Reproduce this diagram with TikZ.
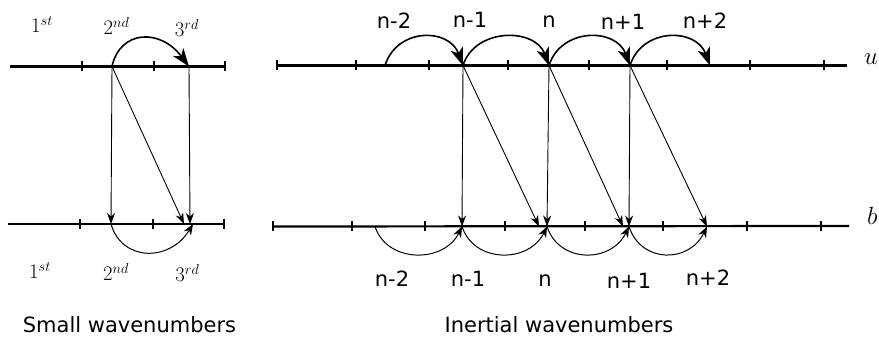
\documentclass[tikz,border=0pt]{standalone}
\usepackage{fontspec}
\setmainfont{DejaVu Sans}
\usetikzlibrary{arrows.meta}
\begin{document}
\begin{tikzpicture}[x=1pt,y=-1pt,
  axisline/.style={line width=2.2pt},
  tickmark/.style={line width=1.8pt},
  hop/.style={line width=1.6pt,-{Stealth[length=18pt,width=13pt,inset=5pt]}},
  lowhop/.style={line width=1pt,-{Stealth[length=11pt,width=8.5pt]}},
  drop/.style={line width=0.9pt,-{Stealth[length=11pt,width=8pt]}},
  lbl/.style={anchor=base,inner sep=0pt,font=\fontsize{21}{24}\selectfont},
  caplbl/.style={lbl,text depth=0pt},
  ordl/.style={anchor=base,inner sep=0pt,font=\fontsize{22}{26}\selectfont},
  varl/.style={anchor=base west,inner sep=0pt,font=\fontsize{24}{28}\selectfont},
]
\useasboundingbox (0,0) rectangle (879,339);

% ---------- left panel ----------
\coordinate (LTa) at (10,66.5);   \coordinate (LTb) at (225,66.5);
\coordinate (LBa) at (8,224);     \coordinate (LBb) at (224,224);
\draw[axisline] (LTa) -- (LTb);
\draw[axisline] (LBa) -- (LBb);
\foreach \x in {82,154,225} \draw[tickmark] (\x,61.5) -- (\x,71.5);
\foreach \x in {80,153,224} \draw[tickmark] (\x,219) -- (\x,229);

\coordinate (A2) at (112,66.5);
\coordinate (A3) at (189,66.5);
\coordinate (B2) at (111,224);
\coordinate (B3) at (190,224);

\draw[hop] (A2) .. controls (120,30) and (160,28) .. (A3);
\draw[drop] (A2) -- (B2);
\draw[drop] (A2) -- ([xshift=-6pt]B3);
\draw[drop] (A3) -- (B3);
\draw[lowhop] (B2) .. controls (122,262) and (170,262) .. ([xshift=3pt]B3);

\node[ordl] (o1t) at (42,33) {$1^{st}$};
\node[ordl] (o2t) at (116.5,35) {$2^{nd}$};
\node[ordl] (o3t) at (187,37) {$3^{rd}$};
\node[ordl] (o1b) at (40,279) {$1^{st}$};
\node[ordl] (o2b) at (116,281) {$2^{nd}$};
\node[ordl] (o3b) at (187.5,282) {$3^{rd}$};

\node[caplbl] (capL) at (129.5,333) {Small wavenumbers};

% ---------- right panel ----------
\coordinate (RTa) at (277,65.5);  \coordinate (RTb) at (847,65.5);
\coordinate (RBa) at (273,226.5); \coordinate (RBb) at (849,226);
\draw[axisline] (RTa) -- (RTb);
\draw[axisline] (RBa) -- (RBb);
\foreach \x in {277,356,429,508,589,667,750,824} \draw[tickmark] (\x,60.5) -- (\x,70.5);
\foreach \x in {273,352,425,505,585,663,747,821} \draw[tickmark] (\x,221.5) -- (\x,231.5);

\coordinate (T1) at (385,65.5);
\coordinate (T2) at (463,65.5);
\coordinate (T3) at (549,65.5);
\coordinate (T4) at (630,65.5);
\coordinate (T5) at (710,65.5);
\coordinate (S1) at (375,226.5);
\coordinate (S2) at (462,226.5);
\coordinate (S3) at (547,226.5);
\coordinate (S4) at (629,226.5);
\coordinate (S5) at (707,226.5);

\draw[hop] (T1) .. controls ([shift={(12,-38)}]T1) and ([shift={(-14,-38)}]T2) .. (T2);
\draw[hop] (T2) .. controls ([shift={(12,-38)}]T2) and ([shift={(-14,-38)}]T3) .. (T3);
\draw[hop] (T3) .. controls ([shift={(12,-38)}]T3) and ([shift={(-14,-38)}]T4) .. (T4);
\draw[hop] (T4) .. controls ([shift={(12,-38)}]T4) and ([shift={(-14,-38)}]T5) .. (T5);

\draw[drop] (T2) -- (S2);
\draw[drop] (T3) -- (S3);
\draw[drop] (T4) -- (S4);
\draw[drop] (T2) -- ([xshift=-8pt]S3);
\draw[drop] (T3) -- ([xshift=-6pt]S4);
\draw[drop] (T4) -- (S5);

\draw[lowhop] (S1) .. controls ([shift={(12,37)}]S1) and ([shift={(-18,37)}]S2) .. (S2);
\draw[lowhop] (S2) .. controls ([shift={(12,37)}]S2) and ([shift={(-18,37)}]S3) .. (S3);
\draw[lowhop] (S3) .. controls ([shift={(12,37)}]S3) and ([shift={(-18,37)}]S4) .. (S4);
\draw[lowhop] (S4) .. controls ([shift={(12,37)}]S4) and ([shift={(-18,37)}]S5) .. (S5);

\node[lbl] (nt1) at (394,29) {n-2};
\node[lbl] (nt2) at (470,28) {n-1};
\node[lbl] (nt3) at (549,28) {n};
\node[lbl] (nt4) at (623,30) {n+1};
\node[lbl] (nt5) at (705,29) {n+2};
\node[lbl] (nb1) at (392,287) {n-2};
\node[lbl] (nb2) at (468,287) {n-1};
\node[lbl] (nb3) at (545,287) {n};
\node[lbl] (nb4) at (629,289) {n+1};
\node[lbl] (nb5) at (708,286) {n+2};

\node[varl] (uu) at (864,65) {$u$};
\node[varl] (bb) at (867,225) {$b$};

\node[caplbl] (capR) at (559,333) {Inertial wavenumbers};
\end{tikzpicture}
\end{document}
